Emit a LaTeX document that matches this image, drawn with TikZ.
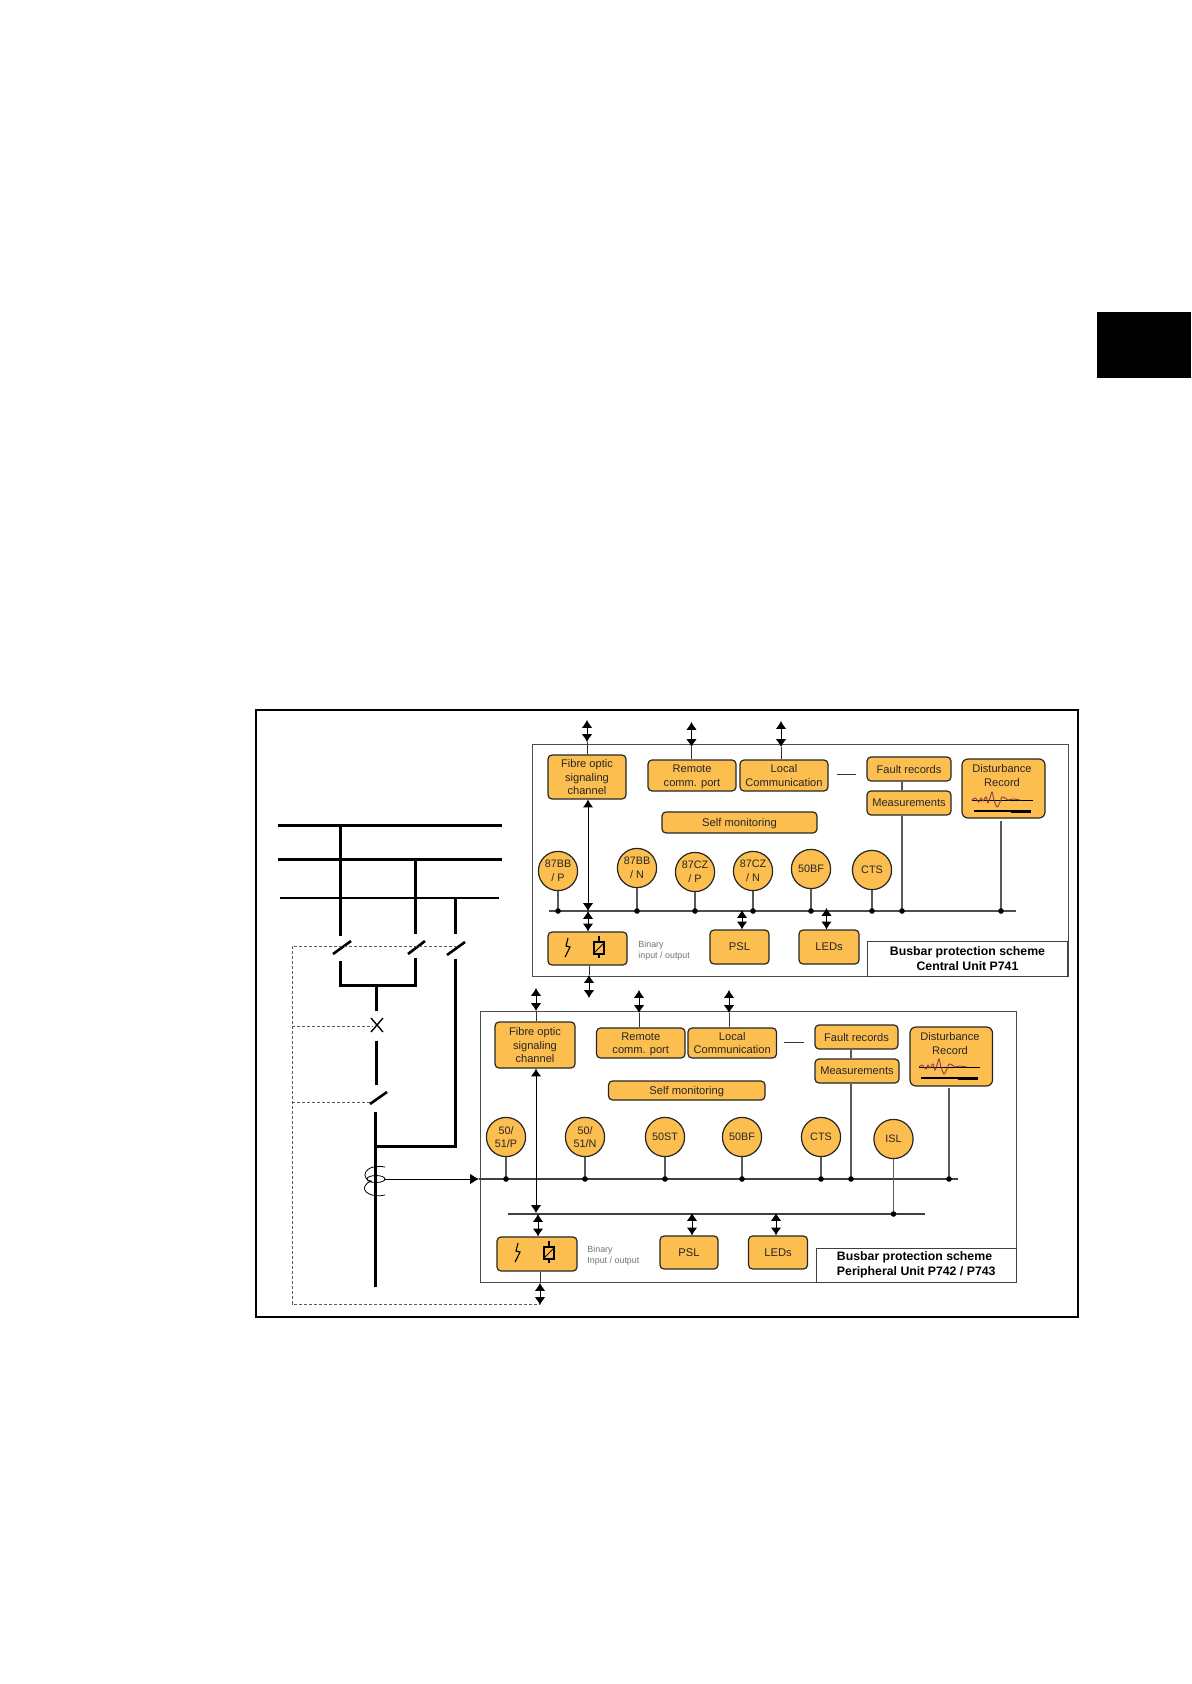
\documentclass[tikz,border=0pt]{standalone}
\usepackage{fontspec}
\setmainfont{Liberation Sans}
\usetikzlibrary{arrows.meta}
\definecolor{amber}{HTML}{FDBE50}
\definecolor{wavecol}{HTML}{8A3A55}
\tikzset{
  pbox/.style={draw=black!85,line width=.6pt,fill=amber,rounded corners=2pt,inner sep=0pt,align=center,text=black!85,text depth=-.6pt,font=\fontsize{5.55}{6.8}\selectfont},
  rly/.style={draw=black!85,line width=.6pt,fill=amber,circle,minimum size=19.6pt,inner sep=0pt,align=center,text=black!85,font=\fontsize{5.4}{6.8}\selectfont},
  unitbox/.style={draw=black!70,line width=.5pt,inner sep=0pt},
  capbox/.style={draw=black!75,fill=white,line width=.5pt,inner sep=0pt,align=center,font=\bfseries\fontsize{6.15}{7.3}\selectfont},
  sig/.style={draw=black!80,line width=.5pt},
  tap/.style={draw=black!65,line width=.55pt},
  twoway/.style={draw=black,line width=.5pt,{Latex[length=3.9pt,width=5.2pt]}-{Latex[length=3.9pt,width=5.2pt]}},
  oneway/.style={draw=black,line width=.5pt,-{Latex[length=4.4pt,width=5.2pt]}},
  dot/.style={circle,fill=black,inner sep=0pt,minimum size=2.8pt},
  hv/.style={draw=black,line width=1.5pt},
  hvthin/.style={draw=black,line width=1.3pt},
  aux/.style={draw=black!65,line width=.45pt,dash pattern=on 1.6pt off .9pt},
  note/.style={inner sep=0pt,align=left,text=black!55,font=\fontsize{4.45}{5.4}\selectfont},
  boxtext/.style={inner sep=0pt,align=center,text=black!85,font=\fontsize{5.55}{6.8}\selectfont},
}
\newcommand\pboxn[7][]{\node[pbox,minimum width={(#5-#3)*0.5pt},minimum height={(#6-#4)*0.5pt},#1] (#2) at ({(#3+#5)/2},{(#4+#6)/2}) {#7};}
\newcommand\areabox[6][]{\node[#1,minimum width={(#5-#3)*0.5pt},minimum height={(#6-#4)*0.5pt}] (#2) at ({(#3+#5)/2},{(#4+#6)/2}) {};}
\newcommand\iosym[2]{%
  \begin{scope}[shift={(#1,#2)}]
    \draw[black,line width=.55pt] (2,-10) -- (0,-2) -- (4,-1) -- (-1,9);
    \draw[black,line width=.55pt] (33,-12) -- (33,10);
    \draw[black,line width=.55pt,fill=amber] (28,-6) rectangle (38,6);
    \draw[black,line width=.45pt] (28,5) -- (38,-5);
  \end{scope}}
\newcommand\distsym[2]{%
  \begin{scope}[shift={(#1,#2)}]
    \draw[black,line width=.5pt] (0,0) -- (61,0);
    \draw[wavecol,line width=.45pt,smooth] plot coordinates {(0,0) (3,-2) (5,0) (7,2) (9,-2) (11,1) (14,-3) (16,3) (18,-2) (20,-8) (22,0) (25,7) (28,2) (30,-3) (33,-2) (36,0) (41,-1) (48,0)};
    \draw[black,line width=.6pt] (2,11) -- (59,11);
    \draw[black,line width=1.5pt] (39,11.5) -- (59,11.5);
  \end{scope}}
\begin{document}
\begin{tikzpicture}[x=0.5pt,y=-0.5pt]
\useasboundingbox (0,0) rectangle (1191,1684);
\fill[black] (1097,312) rectangle (1191,378);
\draw[black,line width=.9pt] (256,710) rectangle (1078,1317);

% ---------- primary system
\coordinate (b1l) at (278,825); \coordinate (b1r) at (502,825);
\coordinate (b2l) at (278,859); \coordinate (b2r) at (502,859);
\coordinate (b3l) at (280,898); \coordinate (b3r) at (499,898);
\draw[hv] (b1l) -- (b1r);
\draw[hv] (b2l) -- (b2r);
\draw[hvthin] (b3l) -- (b3r);
\coordinate (q1a) at (340,936); \coordinate (q2a) at (415,934); \coordinate (q3a) at (455,934);
\draw[hv] (q1a |- b1l) -- (q1a);
\draw[hv] (q2a |- b2l) -- (q2a);
\draw[hv] (q3a |- b3l) -- (q3a);
\coordinate (q1s) at (333,954); \coordinate (q1e) at (351,941);
\coordinate (q2s) at (408,954); \coordinate (q2e) at (425,941);
\coordinate (q3s) at (447,955); \coordinate (q3e) at (465,942);
\draw[hvthin] (q1s) -- (q1e);
\draw[hvthin] (q2s) -- (q2e);
\draw[hvthin] (q3s) -- (q3e);
\coordinate (q1b) at (340,961); \coordinate (q2b) at (415,958); \coordinate (q3b) at (455,959);
\coordinate (join1) at (340,985); \coordinate (join2) at (415,985);
\draw[hv,line join=miter] (q1b) -- (join1) -- (join2) -- (q2b);
\coordinate (cbt) at (376,985); \coordinate (cba) at (376,1011);
\draw[hv] (cbt) -- (cba);
\coordinate (x1) at (371,1018); \coordinate (x2) at (383,1032); \coordinate (x3) at (383,1018); \coordinate (x4) at (371,1032);
\draw[black,line width=.7pt] (x1) -- (x2) (x3) -- (x4);
\coordinate (cbb) at (376,1041); \coordinate (q4a) at (376,1085);
\draw[hv] (cbb) -- (q4a);
\coordinate (q4s) at (370,1104); \coordinate (q4e) at (387,1092);
\draw[hvthin] (q4s) -- (q4e);
\coordinate (fdt) at (375,1112); \coordinate (fdb) at (375,1287);
\draw[hv] (fdt) -- (fdb);
\coordinate (q3c) at (455,1146);
\draw[hv] (fdt |- q3c) -- (q3c) -- (q3b);
% current transformer
\coordinate (ct) at (376,1179);
\draw[black,line width=.4pt] (ct) ellipse (9 and 3.5);
\draw[black,line width=.4pt] (385,1167) .. controls (370,1164) and (362,1172) .. (366,1178) .. controls (367,1180) and (369,1181) .. (371,1181);
\draw[black,line width=.4pt] (385,1195) .. controls (372,1198) and (362,1192) .. (365,1186) .. controls (366,1183) and (369,1182) .. (372,1181);
% interlock dashes
\coordinate (d1) at (292,946); \coordinate (d2) at (457,946); \coordinate (d3) at (292,1304); \coordinate (d4) at (540,1304);
\draw[aux] (d2) -- (d1) -- (d3) -- (d4);
\coordinate (d5) at (292,1026); \coordinate (d6) at (373,1026);
\draw[aux] (d5) -- (d6);
\coordinate (d7) at (292,1102); \coordinate (d8) at (370,1102);
\draw[aux] (d7) -- (d8);

% ---------- central unit
\areabox[unitbox]{uA}{532.5}{744}{1068}{976}
\pboxn{fibA}{548}{755}{626}{799}{Fibre optic\\signaling\\channel}
\pboxn{remA}{648}{760}{736}{791}{Remote\\comm. port}
\pboxn{locA}{740}{760}{828}{791}{Local\\Communication}
\pboxn{fauA}{867}{757}{951}{781}{Fault records}
\pboxn{meaA}{867}{791}{951}{815}{Measurements}
\pboxn[rounded corners=3pt]{disA}{962}{759}{1045}{818}{}
\node[boxtext,anchor=north] (disAt) at (1002,764) {Disturbance\\Record};
\distsym{972}{800}
\pboxn{selA}{662}{812}{817}{833}{\fontsize{5.6}{6.8}\selectfont Self monitoring}
\coordinate (dashAa) at (837,774); \coordinate (dashAb) at (856,774);
\draw[sig] (dashAa) -- (dashAb);
\node[rly] (c1) at (558,871) {87BB\\/ P};
\node[rly] (c2) at (637,868) {87BB\\/ N};
\node[rly] (c3) at (695,872) {87CZ\\/ P};
\node[rly] (c4) at (753,871) {87CZ\\/ N};
\node[rly] (c5) at (811,869) {50BF};
\node[rly] (c6) at (872,870) {CTS};
\coordinate (busAl) at (549,911); \coordinate (busAr) at (1016,911);
\draw[draw=black!70,line width=.7pt] (busAl) -- (busAr);
\foreach \n in {c1,c2,c3,c4,c5,c6}{\draw[tap] (\n.south) -- (\n.south |- busAl) node[dot] (\n dot) {};}
\coordinate (tapA) at (902,911); \coordinate (tapAd) at (1001,911);
\draw[tap] (tapA |- fauA.south) -- (tapA |- meaA.north);
\draw[tap] (tapA |- meaA.south) -- (tapA) node[dot] (meaAdot) {};
\draw[tap] (1001,821) -- (tapAd) node[dot] (disAdot) {};
\pboxn{binA}{548}{932}{627}{965}{}
\iosym{566}{948}
\node[note,anchor=west] (noteA) at (638,951) {Binary\\input / output};
\pboxn{pslA}{710}{930}{769}{964}{\fontsize{5.6}{6.8}\selectfont PSL}
\pboxn{ledA}{799}{930}{859}{964}{\fontsize{5.6}{6.8}\selectfont LEDs}
\node[capbox,minimum width=100pt,minimum height=17.5pt] (capA) at (967.5,958.5) {Busbar protection scheme\\Central Unit P741};
% arrows central
\coordinate (t1) at (587,720); \coordinate (t1b) at (587,742);
\draw[twoway] (t1) -- (t1b); \draw[sig] (t1b) -- (t1b |- fibA.north);
\coordinate (t2) at (691.5,722); \coordinate (t2b) at (691.5,747);
\draw[twoway] (t2) -- (t2b); \draw[sig] (t2b) -- (t2b |- remA.north);
\coordinate (t3) at (781,721); \coordinate (t3b) at (781,747);
\draw[twoway] (t3) -- (t3b); \draw[sig] (t3b) -- (t3b |- locA.north);
\coordinate (m1) at (588,911);
\draw[twoway] (m1 |- fibA.south) -- (m1);
\draw[twoway] (m1) -- (m1 |- binA.north);
\coordinate (t4) at (589,975); \coordinate (t4b) at (589,998);
\draw[sig] (t4 |- binA.south) -- (t4); \draw[twoway] (t4) -- (t4b);
\coordinate (m2) at (742,910); \coordinate (m3) at (826.5,908);
\draw[twoway] (m2) -- (m2 |- pslA.north);
\draw[twoway] (m3) -- (m3 |- ledA.north);

% ---------- peripheral unit
\areabox[unitbox]{uB}{480}{1011}{1016}{1282}
\pboxn{fibB}{495}{1022}{575}{1068}{Fibre optic\\signaling\\channel}
\pboxn{remB}{596.5}{1028}{685}{1058}{Remote\\comm. port}
\pboxn{locB}{688}{1028}{776.5}{1058}{Local\\Communication}
\pboxn{fauB}{815}{1025}{898}{1049}{Fault records}
\pboxn{meaB}{815}{1059}{899}{1083}{Measurements}
\pboxn[rounded corners=3pt]{disB}{910}{1027}{992.5}{1086}{}
\node[boxtext,anchor=north] (disBt) at (950,1032) {Disturbance\\Record};
\distsym{919}{1067}
\pboxn{selB}{608.5}{1081}{765}{1100}{\fontsize{5.6}{6.8}\selectfont Self monitoring}
\coordinate (dashBa) at (784,1042); \coordinate (dashBb) at (804,1042);
\draw[sig] (dashBa) -- (dashBb);
\node[rly] (e1) at (506,1137) {50/\\51/P};
\node[rly] (e2) at (585,1137) {50/\\51/N};
\node[rly] (e3) at (665,1137) {50ST};
\node[rly] (e4) at (742,1137) {50BF};
\node[rly] (e5) at (821,1137) {CTS};
\node[rly] (e6) at (893.5,1139) {ISL};
\coordinate (busBl) at (384,1179); \coordinate (busBr) at (957.5,1179); \coordinate (busBt) at (479,1179);
\draw[draw=black!75,line width=.55pt] (busBt) -- (busBr);
\draw[oneway] (busBl) -- (busBt);
\foreach \n in {e1,e2,e3,e4,e5}{\draw[tap] (\n.south) -- (\n.south |- busBl) node[dot] (\n dot) {};}
\coordinate (tapB) at (851,1179); \coordinate (tapBd) at (949,1179);
\draw[tap] (tapB |- fauB.south) -- (tapB |- meaB.north);
\draw[tap] (tapB |- meaB.south) -- (tapB) node[dot] (meaBdot) {};
\draw[tap] (949,1088) -- (tapBd) node[dot] (disBdot) {};
\coordinate (busCl) at (507.5,1214); \coordinate (busCr) at (925,1214);
\draw[draw=black!75,line width=.55pt] (busCl) -- (busCr);
\draw[tap] (e6.south) -- (e6.south |- busCl) node[dot] (e6dot) {};
\pboxn{binB}{497}{1237}{577}{1271}{}
\iosym{516}{1253}
\node[note,anchor=west] (noteB) at (587,1256) {Binary\\Input / output};
\pboxn{pslB}{660}{1236}{718}{1269}{\fontsize{5.6}{6.8}\selectfont PSL}
\pboxn{ledB}{748.5}{1236}{807.5}{1269}{\fontsize{5.6}{6.8}\selectfont LEDs}
\node[capbox,align=left,minimum width=99.75pt,minimum height=17pt] (capB) at (916.25,1265) {Busbar protection scheme\\Peripheral Unit P742 / P743};
% arrows peripheral
\coordinate (s1) at (536,988); \coordinate (s1b) at (536,1011);
\draw[twoway] (s1) -- (s1b); \draw[sig] (s1b) -- (s1b |- fibB.north);
\coordinate (s2) at (639,990); \coordinate (s2b) at (639,1013);
\draw[twoway] (s2) -- (s2b); \draw[sig] (s2b) -- (s2b |- remB.north);
\coordinate (s3) at (729,990); \coordinate (s3b) at (729,1013);
\draw[twoway] (s3) -- (s3b); \draw[sig] (s3b) -- (s3b |- locB.north);
\coordinate (n1) at (536,1213); \coordinate (n2) at (538,1214);
\draw[twoway] (n1 |- fibB.south) -- (n1);
\draw[twoway] (n2) -- (n2 |- binB.north);
\coordinate (s4) at (540,1283); \coordinate (s4b) at (540,1305);
\draw[sig] (s4 |- binB.south) -- (s4); \draw[twoway] (s4) -- (s4b);
\coordinate (n3) at (692,1213); \coordinate (n4) at (776,1213);
\draw[twoway] (n3) -- (n3 |- pslB.north);
\draw[twoway] (n4) -- (n4 |- ledB.north);
\end{tikzpicture}
\end{document}
